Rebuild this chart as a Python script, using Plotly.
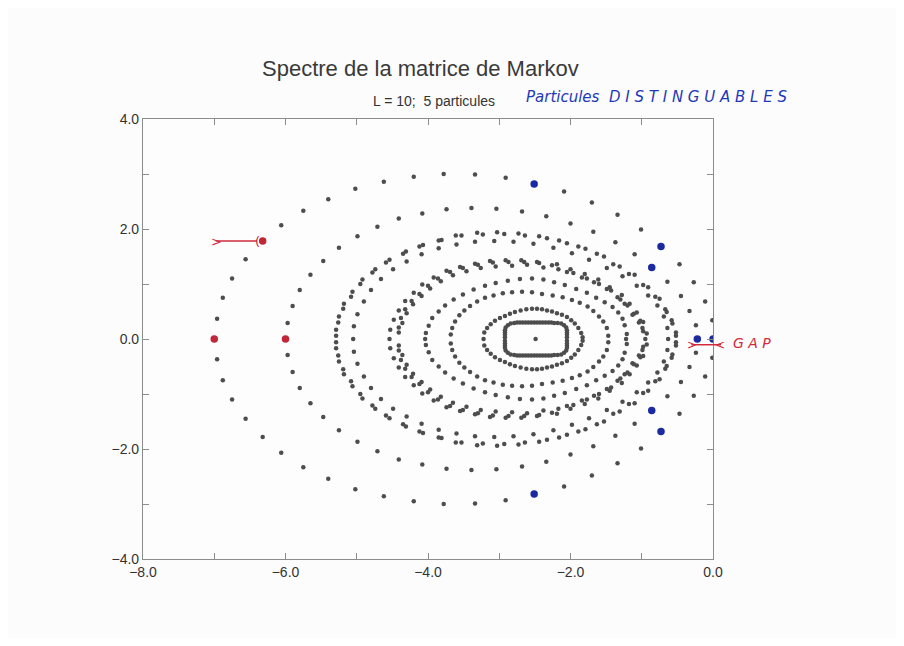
import plotly.graph_objects as go

# ---- eigenvalues (upper half-plane; the spectrum is
#      symmetric under complex conjugation, lower half = conjugates) ----
r1_re = [-6.96, -6.88, -6.75, -6.56, -6.32, -6.06, -5.75, -5.40, -5.02, -4.62, -4.20, -3.78,
         -3.34, -2.91, -2.51, -2.09, -1.70, -1.34, -1.01, -0.73, -0.47, -0.27, -0.11, -0.01]
r1_im = [0.37, 0.75, 1.10, 1.45, 1.78, 2.07, 2.33, 2.54, 2.73, 2.86, 2.95, 3.00,
         2.99, 2.93, 2.82, 2.68, 2.48, 2.26, 1.99, 1.68, 1.36, 1.03, 0.68, 0.34]

r2_re = [-5.97, -5.90, -5.80, -5.65, -5.47, -5.25, -4.99, -4.71, -4.41, -4.08, -3.74, -3.39,
         -3.04, -2.68, -2.34, -2.00, -1.68, -1.37, -1.10, -0.86, -0.64, -0.45, -0.33, -0.24]
r2_im = [0.29, 0.60, 0.89, 1.17, 1.42, 1.66, 1.87, 2.04, 2.19, 2.28, 2.36, 2.38,
         2.37, 2.32, 2.23, 2.10, 1.95, 1.76, 1.54, 1.30, 1.04, 0.78, 0.51, 0.25]

r3_re = [-5.29, -5.29, -5.26, -5.25, -5.19, -5.18, -5.08, -5.06, -4.95, -4.92, -4.78, -4.74,
         -4.59, -4.54, -4.35, -4.31, -4.12, -4.07, -3.85, -3.81, -3.61, -3.53, -3.31, -3.23,
         -3.03, -2.93, -2.73, -2.64, -2.44, -2.33, -2.16, -2.05, -1.89, -1.79, -1.63, -1.53,
         -1.40, -1.31, -1.18, -1.10, -0.98, -0.91, -0.81, -0.75, -0.67, -0.65, -0.58, -0.57,
         -0.52, -0.52]
r3_im = [0.06, 0.17, 0.30, 0.41, 0.55, 0.64, 0.77, 0.86, 1.00, 1.08, 1.21, 1.27,
         1.39, 1.44, 1.55, 1.59, 1.68, 1.71, 1.79, 1.80, 1.88, 1.88, 1.93, 1.90,
         1.94, 1.91, 1.92, 1.88, 1.87, 1.83, 1.79, 1.74, 1.68, 1.64, 1.55, 1.50,
         1.36, 1.32, 1.18, 1.17, 0.98, 0.94, 0.77, 0.73, 0.54, 0.49, 0.34, 0.28,
         0.12, 0.06]

r4_re = [-5.04, -4.99, -4.90, -4.80, -4.66, -4.49, -4.30, -4.09, -3.85, -3.60, -3.34, -3.07,
         -2.80, -2.52, -2.24, -1.98, -1.74, -1.49, -1.27, -1.07, -0.91, -0.78, -0.69, -0.64]
r4_im = [0.23, 0.45, 0.68, 0.89, 1.09, 1.27, 1.41, 1.54, 1.65, 1.72, 1.77, 1.78,
         1.77, 1.73, 1.66, 1.56, 1.44, 1.29, 1.14, 0.97, 0.79, 0.61, 0.41, 0.20]

r5_re = [-4.53, -4.41, -4.41, -4.48, -4.36, -4.38, -4.41, -4.30, -4.32, -4.32, -4.21, -4.23,
         -4.20, -4.12, -4.09, -4.08, -4.00, -3.97, -3.92, -3.86, -3.82, -3.74, -3.69, -3.65,
         -3.55, -3.51, -3.46, -3.34, -3.30, -3.26, -3.13, -3.09, -3.05, -2.91, -2.87, -2.82,
         -2.69, -2.65, -2.61, -2.47, -2.44, -2.38, -2.26, -2.19, -2.17, -2.05, -2.00, -1.96,
         -1.84, -1.80, -1.77, -1.67, -1.61, -1.60, -1.49, -1.45, -1.43, -1.34, -1.28, -1.30,
         -1.24, -1.20, -1.17, -1.13, -1.11, -1.07, -1.04, -1.02, -0.98, -0.99, -0.98, -0.93]
r5_im = [0.17, 0.12, 0.21, 0.35, 0.29, 0.38, 0.52, 0.47, 0.54, 0.69, 0.63, 0.69,
         0.84, 0.82, 0.78, 0.99, 0.97, 0.92, 1.12, 1.10, 1.05, 1.24, 1.22, 1.16,
         1.31, 1.29, 1.23, 1.37, 1.35, 1.29, 1.42, 1.39, 1.32, 1.43, 1.40, 1.33,
         1.43, 1.40, 1.35, 1.40, 1.38, 1.30, 1.34, 1.36, 1.27, 1.22, 1.27, 1.20,
         1.12, 1.18, 1.10, 1.03, 1.08, 1.00, 0.91, 0.94, 0.88, 0.76, 0.80, 0.72,
         0.64, 0.61, 0.64, 0.44, 0.46, 0.48, 0.30, 0.33, 0.31, 0.20, 0.14, 0.10]

r6_re = [-4.03, -3.99, -3.94, -3.85, -3.76, -3.64, -3.51, -3.36, -3.20, -3.05, -2.88, -2.71,
         -2.54, -2.38, -2.23, -2.08, -1.92, -1.77, -1.64, -1.52, -1.41, -1.33, -1.27, -1.24, -1.21]
r6_im = [0.11, 0.24, 0.38, 0.50, 0.61, 0.72, 0.81, 0.90, 0.97, 1.02, 1.06, 1.09,
         1.10, 1.08, 1.03, 0.98, 0.91, 0.84, 0.75, 0.67, 0.58, 0.48, 0.37, 0.25, 0.09]

r7_re = [-3.68, -3.66, -3.62, -3.56, -3.49, -3.41, -3.31, -3.20, -3.08, -2.95, -2.82, -2.68,
         -2.54, -2.40, -2.25, -2.11, -1.98, -1.87, -1.76, -1.68, -1.60, -1.54, -1.49, -1.47]
r7_im = [0.08, 0.20, 0.32, 0.43, 0.52, 0.60, 0.68, 0.75, 0.79, 0.83, 0.85, 0.86,
         0.85, 0.82, 0.79, 0.76, 0.71, 0.66, 0.59, 0.51, 0.41, 0.32, 0.20, 0.06]

r8_re = [-3.21, -3.17, -3.12, -3.06, -2.99, -2.92, -2.85, -2.78, -2.70, -2.62, -2.54, -2.47,
         -2.40, -2.33, -2.26, -2.19, -2.12, -2.05, -1.99, -1.94, -1.89, -1.85, -1.83]
r8_im = [0.12, 0.20, 0.27, 0.33, 0.38, 0.42, 0.46, 0.49, 0.52, 0.54, 0.55, 0.55,
         0.54, 0.52, 0.50, 0.47, 0.44, 0.40, 0.34, 0.28, 0.20, 0.11, 0.03]

r9_re = [-2.92, -2.92, -2.92, -2.92, -2.91, -2.88, -2.84, -2.79, -2.75, -2.71, -2.67, -2.63,
         -2.59, -2.55, -2.51, -2.47, -2.43, -2.39, -2.35, -2.31, -2.27, -2.23, -2.18, -2.13,
         -2.09, -2.06, -2.05, -2.05, -2.05, -2.05]
r9_im = [0.03, 0.08, 0.12, 0.16, 0.21, 0.25, 0.28, 0.29, 0.30, 0.30, 0.30, 0.30,
         0.30, 0.30, 0.30, 0.30, 0.30, 0.30, 0.30, 0.30, 0.30, 0.29, 0.29, 0.28,
         0.25, 0.21, 0.16, 0.12, 0.08, 0.03]

real_re = [-5.05, -4.54, -4.04, -3.22, -2.49, -1.22, -0.95, -0.63]

red_re = [-7.0, -6.0, -6.32]
red_im = [0.0, 0.0, 1.78]
blue_re = [0.0, -0.22, -2.51, -2.51, -0.73, -0.73, -0.86, -0.86]
blue_im = [0.0, 0.0, 2.82, -2.82, 1.68, -1.68, 1.30, -1.30]

x_ticks = [-8, -7, -6, -5, -4, -3, -2, -1, 0]
x_labels = ["−8.0", "", "−6.0", "", "−4.0", "", "−2.0", "", "0.0"]
y_ticks = [-4, -3, -2, -1, 0, 1, 2, 3, 4]
y_labels = ["−4.0", "", "−2.0", "", "0.0", "", "2.0", "", "4.0"]

# ---- assemble gray points (upper + conjugates + reals) ----
gx, gy = [], []
for re_, im_ in [(r1_re, r1_im), (r2_re, r2_im), (r3_re, r3_im), (r4_re, r4_im),
                 (r5_re, r5_im), (r6_re, r6_im), (r7_re, r7_im), (r8_re, r8_im),
                 (r9_re, r9_im)]:
    gx += re_ + re_
    gy += im_ + [-v for v in im_]
gx += real_re
gy += [0.0] * len(real_re)

fig = go.Figure()
fig.add_trace(go.Scatter(x=gx, y=gy, mode="markers",
                         marker=dict(size=4.5, color="#4d4d4d"), hoverinfo="skip"))
fig.add_trace(go.Scatter(x=red_re, y=red_im, mode="markers",
                         marker=dict(size=7.5, color="#c0283a"), hoverinfo="skip"))
fig.add_trace(go.Scatter(x=blue_re, y=blue_im, mode="markers",
                         marker=dict(size=7.5, color="#1c2aa0"), hoverinfo="skip"))

axis_common = dict(showgrid=False, zeroline=False, showline=True, linecolor="#8c8c8c",
                   linewidth=1.2, mirror="ticks", ticks="inside", ticklen=6,
                   tickcolor="#8c8c8c", tickwidth=1,
                   tickfont=dict(family="Liberation Sans, Arial", size=14, color="#333333"))
fig.update_xaxes(range=[-8, 0], tickmode="array", tickvals=x_ticks, ticktext=x_labels,
                 **axis_common)
fig.update_yaxes(range=[-4, 4], tickmode="array", tickvals=y_ticks, ticktext=y_labels,
                 **axis_common)

red = "#d02a3c"
shapes = [
    dict(type="line", xref="x", yref="y", x0=-6.98, x1=-6.40, y0=1.78, y1=1.78,
         line=dict(color=red, width=1.5)),
    dict(type="line", xref="paper", yref="paper", x0=0.962, x1=1.014, y0=0.487, y1=0.487,
         line=dict(color=red, width=1.5)),
]
mid = dict(xanchor="center", yanchor="middle", showarrow=False)
annotations = [
    dict(text="Spectre de la matrice de Markov", xref="paper", yref="paper",
         x=0.486, y=1.0, yshift=51, **mid,
         font=dict(family="Liberation Sans, Arial", size=22, color="#3a3a3a")),
    dict(text="L = 10;  5 particules", xref="paper", yref="paper",
         x=0.511, y=1.0, yshift=18, **mid,
         font=dict(family="Liberation Sans, Arial", size=14, color="#333333")),
    dict(text="<i>Particules  D I S T I N G U A B L E S</i>", xref="paper", yref="paper",
         x=0.90, y=1.0, yshift=22, **mid,
         font=dict(family="DejaVu Sans", size=15, color="#1f3ab8")),
    dict(text="<i>G A P</i>", xref="paper", yref="paper", x=1.068, y=0.491, **mid,
         font=dict(family="DejaVu Sans", size=14, color=red)),
    dict(text=">", xref="x", yref="y", x=-6.97, y=1.78, **mid,
         font=dict(family="DejaVu Sans", size=13, color=red)),
    dict(text="(", xref="x", yref="y", x=-6.40, y=1.78, **mid,
         font=dict(family="DejaVu Sans", size=13, color=red)),
    dict(text=">", xref="paper", yref="paper", x=0.964, y=0.487, **mid,
         font=dict(family="DejaVu Sans", size=12, color=red)),
    dict(text="<", xref="paper", yref="paper", x=1.012, y=0.487, **mid,
         font=dict(family="DejaVu Sans", size=12, color=red)),
]

# the page body adds an 8 px margin, so the figure is placed to put the plot
# area at the same screen position as in the reference
fig.update_layout(width=888, height=630, showlegend=False,
                  margin=dict(l=135, r=183, t=111, b=79),
                  paper_bgcolor="#fcfcfc", plot_bgcolor="#fdfdfd",
                  shapes=shapes, annotations=annotations)

fig.write_html("out.html")
